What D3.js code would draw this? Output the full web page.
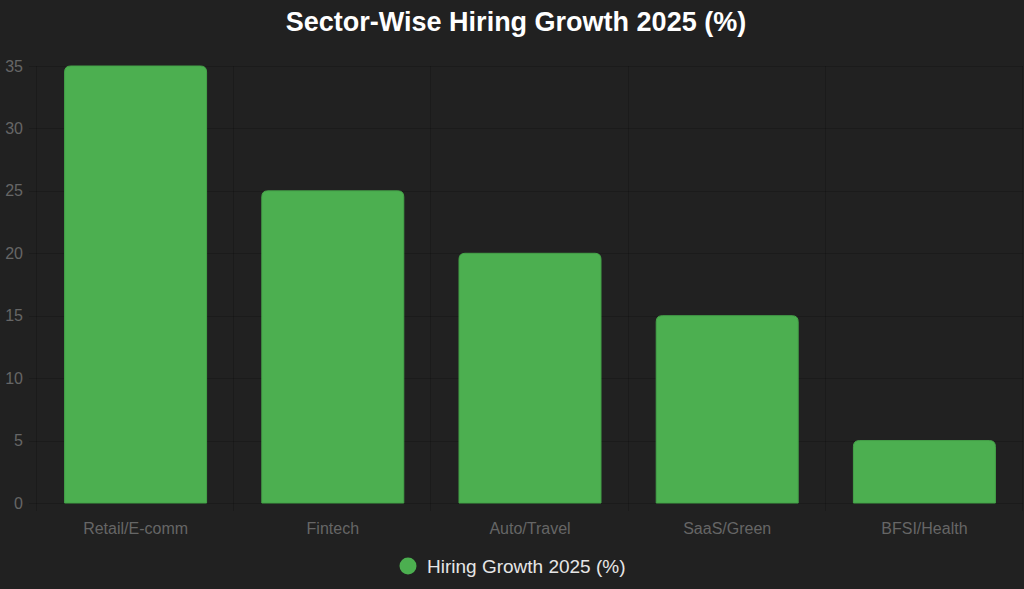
<!DOCTYPE html>
<html>
<head>
<meta charset="utf-8">
<script src="https://cdn.jsdelivr.net/npm/d3@7"></script>
<style>
  html, body { margin: 0; padding: 0; background: #212121; }
  svg { display: block; font-family: "Liberation Sans", Arial, sans-serif; }
</style>
</head>
<body>
<script>
const sectors = ["Retail/E-comm", "Fintech", "Auto/Travel", "SaaS/Green", "BFSI/Health"];
const growth = [35, 25, 20, 15, 5];
const yTicks = [0, 5, 10, 15, 20, 25, 30, 35];
const seriesName = "Hiring Growth 2025 (%)";
const chartTitle = "Sector-Wise Hiring Growth 2025 (%)";

const width = 1024;
const height = 589;
const margin = { top: 66, right: 1, bottom: 86, left: 37 };
const gridColor = "rgba(0,0,0,0.18)";
const tickColor = "#666";
const barColor = "#4caf50";

const svg = d3.select("body").append("svg")
  .attr("width", width)
  .attr("height", height);

svg.append("rect")
  .attr("width", width)
  .attr("height", height)
  .attr("fill", "#212121");

const x = d3.scaleBand()
  .domain(sectors)
  .range([margin.left, width - margin.right]);

const y = d3.scaleLinear()
  .domain([0, 35])
  .range([height - margin.bottom, margin.top]);

// grid
const grid = svg.append("g");
grid.selectAll("line.h")
  .data(yTicks)
  .enter().append("line")
  .attr("x1", margin.left - 8)
  .attr("x2", width - margin.right)
  .attr("y1", (d) => Math.round(y(d)) + 0.5)
  .attr("y2", (d) => Math.round(y(d)) + 0.5)
  .attr("stroke", gridColor);

const vx = sectors.map((s) => x(s)).concat([x.range()[1]]);
grid.selectAll("line.v")
  .data(vx)
  .enter().append("line")
  .attr("x1", (d) => Math.round(d) - 0.5)
  .attr("x2", (d) => Math.round(d) - 0.5)
  .attr("y1", margin.top)
  .attr("y2", y(0) + 8)
  .attr("stroke", gridColor);

// y tick labels
svg.append("g")
  .selectAll("text")
  .data(yTicks)
  .enter().append("text")
  .attr("x", 23)
  .attr("y", (d) => y(d))
  .attr("dy", "0.35em")
  .attr("text-anchor", "end")
  .style("fill", tickColor)
  .style("font-size", "16px")
  .text((d) => d);

// x tick labels
svg.append("g")
  .selectAll("text")
  .data(sectors)
  .enter().append("text")
  .attr("x", (d) => x(d) + x.bandwidth() / 2)
  .attr("y", y(0) + 25)
  .attr("dy", "0.35em")
  .attr("text-anchor", "middle")
  .style("fill", tickColor)
  .style("font-size", "16px")
  .text((d) => d);

// bars with rounded top corners
function barPath(x0, y0, w, h, r) {
  r = Math.min(r, h, w / 2);
  return `M${x0},${y0 + h}` +
    `V${y0 + r}` +
    `Q${x0},${y0} ${x0 + r},${y0}` +
    `H${x0 + w - r}` +
    `Q${x0 + w},${y0} ${x0 + w},${y0 + r}` +
    `V${y0 + h}Z`;
}

const bw = x.bandwidth() * 0.72;
svg.append("g")
  .selectAll("path")
  .data(sectors)
  .enter().append("path")
  .attr("d", (d, i) => {
    const x0 = x(d) + (x.bandwidth() - bw) / 2;
    return barPath(x0, y(growth[i]), bw, y(0) - y(growth[i]), 6);
  })
  .attr("fill", barColor)
  .attr("stroke", "#45a349")
  .attr("stroke-width", 1);

// title
svg.append("text")
  .attr("x", width / 2 + 4)
  .attr("y", 22)
  .attr("dy", "0.35em")
  .attr("text-anchor", "middle")
  .style("fill", "#fff")
  .style("font-size", "27px")
  .style("font-weight", "bold")
  .text(chartTitle);

// legend
const legend = svg.append("g").attr("transform", "translate(408, 566)");
legend.append("circle")
  .attr("r", 8.5)
  .attr("fill", barColor);
legend.append("text")
  .attr("x", 19)
  .attr("dy", "0.35em")
  .style("fill", "#e6e6e6")
  .style("font-size", "19px")
  .text(seriesName);
</script>
</body>
</html>
